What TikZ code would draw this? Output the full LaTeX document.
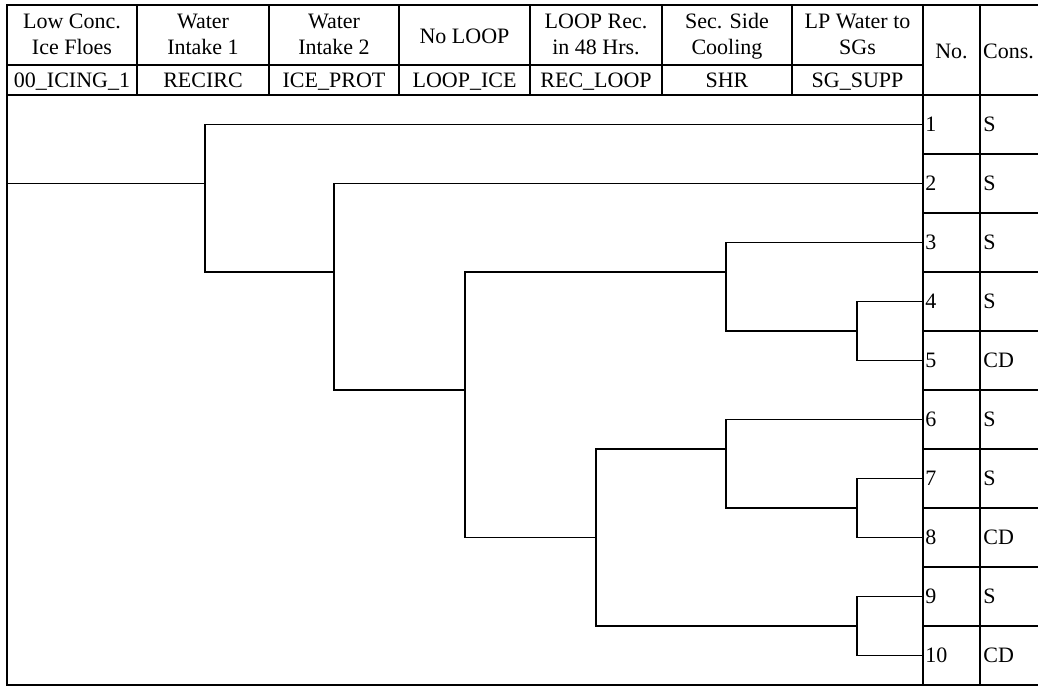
\documentclass[tikz,border=0pt]{standalone}
\usepackage{fontspec}
\setmainfont{Liberation Serif}
\usetikzlibrary{positioning}

\begin{document}
\begin{tikzpicture}[x=0.5pt,y=-0.5pt,
    font=\fontsize{11pt}{13pt}\selectfont,
    grid/.style={line width=1.3pt},
    branch/.style={line width=0.7pt},
    head/.style={align=center,inner sep=0pt,
      execute at begin node=\strut,execute at end node=\strut},
    cell/.style={anchor=west,inner sep=0pt}]
  \useasboundingbox (0,0) rectangle (1038,686);
  % table frame
  \draw[grid] (1038,5) -- (7,5) -- (7,685) -- (1038,685);
  \draw[grid] (7,65) -- (923,65);
  \draw[grid] (7,95) -- (1038,95);
  \foreach \x in {137,269,399,530,662,792}
    \draw[grid] (\x,5) -- (\x,95);
  \draw[grid] (923,5) -- (923,685);
  \draw[grid] (980,5) -- (980,685);
  \foreach \i in {1,...,9}
    \draw[grid] (923,{95+59*\i}) -- (1038,{95+59*\i});
  % column headings
  \foreach \x/\txt/\code [count=\i] in {
      72/{Low Conc.\\Ice Floes}/00\_ICING\_1,
      203/{Water\\Intake 1}/RECIRC,
      334/{Water\\Intake 2}/ICE\_PROT,
      464.5/{No LOOP}/LOOP\_ICE,
      596/{LOOP Rec.\\in 48 Hrs.}/REC\_LOOP,
      727/{Sec. Side\\Cooling}/SHR,
      857.5/{LP Water to\\SGs}/SG\_SUPP}
  {
    \node[head] (h\i) at (\x,38) {\txt};
    \node[head] (t\i) at (\x,82) {\code};
  }
  \node[head] (hno) at (951.5,53) {No.};
  \node[head] (hcons) at (1008.5,53) {Cons.};
  % end states
  \foreach \c [count=\i] in {S,S,S,S,CD,S,S,CD,S,CD}
  {
    \coordinate (e\i) at (923,{124.5+59*(\i-1)});
    \node[cell,right=1pt of e\i] (n\i) {\i};
    \node[cell] (c\i) at (983,{124.5+59*(\i-1)}) {\c};
  }
  % branch points
  \coordinate (ie) at (7,183.5);
  \coordinate (s1) at (205,183.5);
  \coordinate (s2) at (334,272);
  \coordinate (s3) at (465,390);
  \coordinate (s4) at (726,272);
  \coordinate (s5) at (857,331);
  \coordinate (s6) at (596,537.5);
  \coordinate (s7) at (726,449);
  \coordinate (s8) at (857,508);
  \coordinate (s9) at (857,626);
  % event tree
  \draw[branch] (ie) -- (s1);
  \draw[branch] (e1) -| (s1) |- (s2);
  \draw[branch] (e2) -| (s2) |- (s3);
  \draw[branch] (s4) -| (s3) |- (s6);
  \draw[branch] (e3) -| (s4) |- (s5);
  \draw[branch] (e4) -| (s5) |- (e5);
  \draw[branch] (s7) -| (s6) |- (s9);
  \draw[branch] (e6) -| (s7) |- (s8);
  \draw[branch] (e7) -| (s8) |- (e8);
  \draw[branch] (e9) -| (s9) |- (e10);
\end{tikzpicture}
\end{document}
